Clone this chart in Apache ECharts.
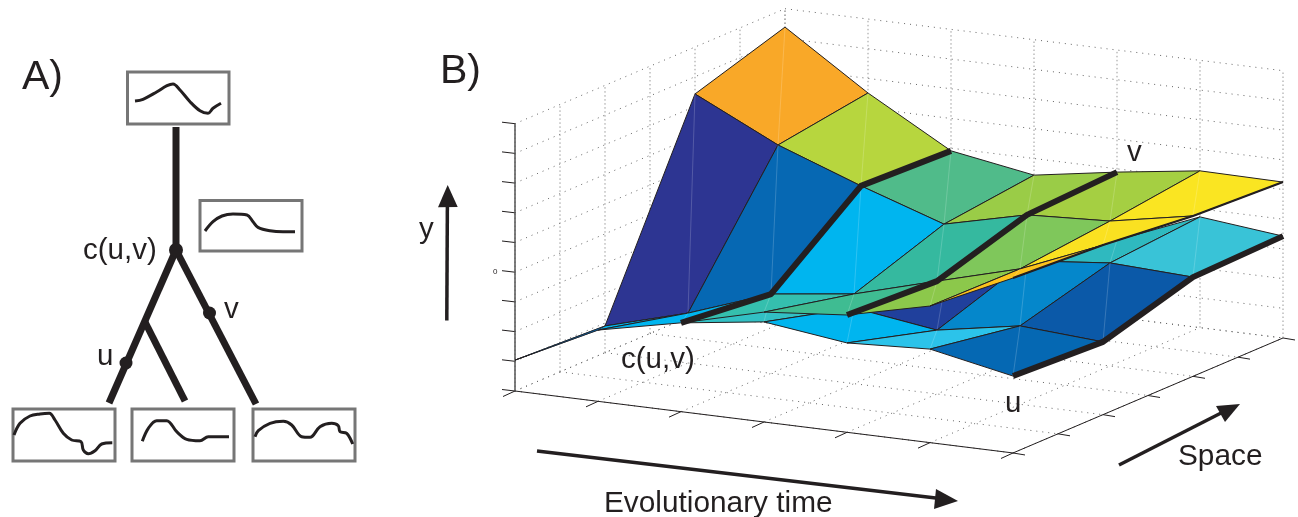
<!DOCTYPE html>
<html><head><meta charset="utf-8">
<style>html,body{margin:0;padding:0;background:#fff}#c{width:1298px;height:517px}</style>
<script src="https://cdn.jsdelivr.net/npm/echarts@6/dist/echarts.min.js"></script>
</head><body><div id="c"></div>
<script>
// ---------- Panel B: surface heights, z[s][t], in units of the y-axis ticks ----------
const timeTicks = [0,1,2,3,4,5,6];
const spaceTicks = [0,0.5,1,1.5,2,2.5,3];
const heightTicks = [-4,-3,-2,-1,0,1,2,3,4,5];
const sheetV = [
  [-2.96,-1.60,-1.01,-0.30,-0.05, 0.60, 1.89],
  [-3.10,-2.32,-1.33,-0.98,-0.20, 0.56, 1.71],
  [ 3.42, 2.05, 1.02, 0.08, 0.74, 0.88, 1.40],
  [ 4.38, 2.51, 0.91, 0.44, 0.89, 1.28, 1.25]
];
const sheetVColors = [
  ['#00b5ef','#00b5ef','#35bfae','#3fbc92','#8cc84b','#fcc21c'],
  ['#2d3592','#0668b3','#00b5ef','#35b99f','#7fc75b','#fae121'],
  ['#f9a828','#b7d63e','#50bb8a','#9acc47','#a5cf42','#fae522']
];
const sheetVSliver = [[0,0],[0,1],[1,0]];
const sliverColor = '#0668b3';
// sheet U: null where the sheet is hidden
const sheetU = [
  [null,null,-1.01,-0.63,-0.99,-0.85,-1.41],
  [null,null,-1.33,-1.45,-1.85,-1.36,-1.55],
  [null,null,null,-2.13,-0.81,-0.53,-0.66],
  [null,null,null,null,-1.40,-0.27,-0.57]
];
const sheetUCells = [ // [t, s, colour]
  [4,2,'#2fb9bf'],[5,2,'#39c3d7'],
  [3,1,'#20409c'],[4,1,'#0587cb'],[5,1,'#0b59a8'],
  [2,0,'#32c0c4'],[3,0,'#00b5ef'],[4,0,'#2cc3ea'],[5,0,'#0568b3']
];
const thickV1Time = 2, thickV2Time = 4, thickUTime = 6;

// projection of the 3-D box onto the page (orthographic)
const origin = [515,391], timeStep = [83,10.33], spaceStep = [90,-38.33], heightStep = -29.7;
function project(t,s,z){
  return [origin[0]+timeStep[0]*t+spaceStep[0]*s,
          origin[1]+timeStep[1]*t+spaceStep[1]*s+heightStep*(z+4)];
}
const zLow = -4, zHigh = 5, tEnd = 6, sEnd = 3;

// ---------- Panel A: tree and small curves ----------
const treeBranches = [
  [[176,127],[176,250]],
  [[176,250],[109,403]],
  [[176,250],[256,404]],
  [[145,322],[185,401]]
];
const treeNodes = [[176,250,7],[126,363,6.5],[209.5,313,6.5]];
const curveBoxes = [[127.5,72,229,124],[200,200.5,302,251],[13,409,115,461],[132,409,234,461],[253,409,355,461]];
const curve1 = [[135,101],[143,99.3],[157,91.7],[167,85.7],[173,84],[180,90],[190,101.7],[200,110.7],[208,113.3],[213,108.3],[221,103.3]];
const curve2 = [[205,231],[213,221.7],[222,216],[233,214],[247,215],[253,221.7],[258,227.3],[270,230.7],[283,231.7],[295,231.7]];
const curve3 = [[14,435],[20,423.3],[30,416],[40,414],[49.3,413.3],[55,420],[63.3,433.3],[71.7,440],[81,441.7],[83.3,450],[88.3,453.7],[95,450.7],[101.7,444],[112.3,442.7]];
const curve4 = [[142.3,441.3],[148.3,428.3],[156.7,420.7],[166.7,420.7],[176.7,431.7],[186.7,439.3],[200,440.7],[208.3,436.7],[229,436.7]];
const curve5 = [[255,436.7],[258.3,430.7],[270,423.3],[283.3,421.3],[291.7,425],[301.7,436.7],[310,437.3],[320,426.7],[331.7,423.3],[338.3,425.7],[340,431.7],[346.7,433.3],[352.7,444]];

// ---------- Arrows and texts ----------
const arrowShafts = [
  [[446.8,320.5],[447.4,200]],
  [[537,451],[940,498.5]],
  [[1119,465],[1225,411]]
];
const arrowHeads = [
  [[447.7,185],[438,207.3],[457.7,207]],
  [[958,501],[936,489],[934,509]],
  [[1240,404],[1216,406],[1225,422]]
];
const labels = [
  ['A)',22,88,41],['B)',440,82,41],
  ['c(u,v)',83,258,29.5],['u',97,364,29.5],['v',224,317,29.5],
  ['c(u,v)',621,367,29.5],['v',1127,160,29.5],['u',1005,411,29.5],
  ['y',419,237,29.5],['Space',1178,464,29.8],['Evolutionary time',604,511,29.8],
  ['0',493,274,8]
];

// ---------- derived geometry ----------
const ink = '#231f20';
const gridLong = [], gridVert = [];
heightTicks.forEach(z=>{
  gridLong.push([project(0,0,z),project(0,sEnd,z)]);
  gridLong.push([project(0,sEnd,z),project(tEnd,sEnd,z)]);
});
spaceTicks.forEach(s=>{
  gridVert.push([project(0,s,zLow),project(0,s,zHigh)]);
  gridLong.push([project(0,s,zLow),project(tEnd,s,zLow)]);
});
timeTicks.forEach(t=>{
  gridVert.push([project(t,sEnd,zLow),project(t,sEnd,zHigh)]);
  gridLong.push([project(t,0,zLow),project(t,sEnd,zLow)]);
});
const axisLines = [
  [project(0,0,zLow),project(tEnd,0,zLow)],
  [project(tEnd,0,zLow),project(tEnd,sEnd,zLow)]
];
const axisTicks = [];
heightTicks.forEach(z=>{const p=project(0,0,z);axisTicks.push([[p[0]-13,p[1]-1.5],p]);});
timeTicks.forEach(t=>{const p=project(t,0,zLow);axisTicks.push([p,[p[0]-12,p[1]+5.5]]);});
spaceTicks.forEach(s=>{const p=project(tEnd,s,zLow);axisTicks.push([p,[p[0]+12,p[1]+2]]);});
const zAxisLine = [[project(0,0,zLow),project(0,0,zHigh)]];

const cellsU = sheetUCells.map(([t,s,c])=>({c,pts:[[t,s],[t,s+1],[t+1,s+1],[t+1,s]].map(([a,b])=>project(a,b,sheetU[b][a])),
  diag:[project(t,s+1,sheetU[s+1][t]),project(t+1,s,sheetU[s][t+1])]}));
const cellsV = [];
for(let s=2;s>=0;s--) for(let t=0;t<6;t++){
  cellsV.push({c:sheetVColors[s][t],pts:[[t,s],[t,s+1],[t+1,s+1],[t+1,s]].map(([a,b])=>project(a,b,sheetV[b][a])),
    diag:[project(t,s+1,sheetV[s+1][t]),project(t+1,s,sheetV[s][t+1])]});
}
const sliver = {c:sliverColor,pts:sheetVSliver.map(([a,b])=>project(a,b,sheetV[b][a]))};
const col = (sh,t)=>sh.map((row,s)=>project(t,s,row[t]));
const thickPaths = [col(sheetV,thickV1Time),col(sheetV,thickV2Time),col(sheetU,thickUTime)];
const rimPath = [col(sheetV,6)];

// ---------- series builders ----------
const base = {type:'custom',silent:true,clip:false,animation:false,coordinateSystem:'cartesian2d'};
function pathSeries(name,paths,style,z){
  return Object.assign({},base,{name,z,data:paths.map((_,i)=>[i]),encode:{x:0,y:0},
    renderItem(p,api){
      return {type:'polyline',shape:{points:paths[p.dataIndex].map(q=>api.coord(q))},style:Object.assign({fill:null},style)};
    }});
}
function polySeries(name,polys,z,lw){
  return Object.assign({},base,{name,z,data:polys.map((_,i)=>[i]),encode:{x:0,y:0},
    renderItem(p,api){
      const c=polys[p.dataIndex];
      const kids=[{type:'polygon',shape:{points:c.pts.map(q=>api.coord(q))},style:{fill:c.c,stroke:lw?ink:c.c,lineWidth:lw,lineJoin:'round'}}];
      if(c.diag) kids.push({type:'line',shape:{x1:api.coord(c.diag[0])[0],y1:api.coord(c.diag[0])[1],x2:api.coord(c.diag[1])[0],y2:api.coord(c.diag[1])[1]},style:{stroke:'rgba(255,255,255,0.18)',lineWidth:1}});
      return {type:'group',children:kids};
    }});
}
const series = [];
series.push(pathSeries('gridLong',gridLong,{stroke:'#666',lineWidth:1,lineDash:[1,5]},1));
series.push(pathSeries('gridVert',gridVert,{stroke:'#999',lineWidth:1,lineDash:[1.5,2.5]},1));
series.push(pathSeries('axes',axisLines.concat(axisTicks),{stroke:ink,lineWidth:1},2));
series.push(pathSeries('zAxis',zAxisLine,{stroke:'#555',lineWidth:1.5},2));
series.push(polySeries('sheetU',cellsU,3,1));
series.push(polySeries('sheetV',cellsV,4,1));
series.push(polySeries('sliver',[sliver],5,0.6));
series.push(pathSeries('rim',rimPath,{stroke:ink,lineWidth:2.2},6));
series.push(pathSeries('thick',thickPaths,{stroke:ink,lineWidth:6,lineJoin:'round'},7));
series.push(pathSeries('tree',treeBranches,{stroke:ink,lineWidth:7},7));
series.push(Object.assign({},base,{name:'nodes',z:8,data:treeNodes,encode:{x:0,y:1},
  renderItem(p,api){const c=api.coord([api.value(0),api.value(1)]);
    return {type:'circle',shape:{cx:c[0],cy:c[1],r:api.value(2)},style:{fill:ink}};}}));
series.push(Object.assign({},base,{name:'boxes',z:7,data:curveBoxes,encode:{x:[0,2],y:[1,3]},
  renderItem(p,api){const a=api.coord([api.value(0),api.value(1)]),b=api.coord([api.value(2),api.value(3)]);
    return {type:'rect',shape:{x:a[0],y:a[1],width:b[0]-a[0],height:b[1]-a[1]},style:{fill:'#fff',stroke:'#767676',lineWidth:3}};}}));
[curve1,curve2,curve3,curve4,curve5].forEach((d,i)=>series.push({type:'line',name:'curve'+(i+1),data:d,z:8,showSymbol:false,symbol:'none',smooth:0.35,silent:true,animation:false,lineStyle:{color:ink,width:3}}));
series.push(pathSeries('arrowShafts',arrowShafts,{stroke:ink,lineWidth:3.5},7));
series.push(Object.assign({},base,{name:'arrowHeads',z:8,data:arrowHeads.map((_,i)=>[i]),encode:{x:0,y:0},
  renderItem(p,api){return {type:'polygon',shape:{points:arrowHeads[p.dataIndex].map(q=>api.coord(q))},style:{fill:ink}};}}));
series.push(Object.assign({},base,{name:'labels',z:9,data:labels.map(l=>[l[1],l[2]]),encode:{x:0,y:1},
  renderItem(p,api){const l=labels[p.dataIndex],c=api.coord([l[1],l[2]]);
    return {type:'text',style:{text:l[0],x:c[0],y:c[1]-0.25*l[3],fill:ink,font:l[3]+'px "Liberation Sans"',align:'left',verticalAlign:'middle'}};}}));

const chart = echarts.init(document.getElementById('c'),null,{renderer:'canvas'});
chart.setOption({
  backgroundColor:'#fff',animation:false,
  grid:{left:0,right:0,top:0,bottom:0},
  xAxis:{type:'value',min:0,max:1298,show:false},
  yAxis:{type:'value',min:0,max:517,inverse:true,show:false},
  tooltip:{show:false},legend:{show:false},
  series
});
</script></body></html>
